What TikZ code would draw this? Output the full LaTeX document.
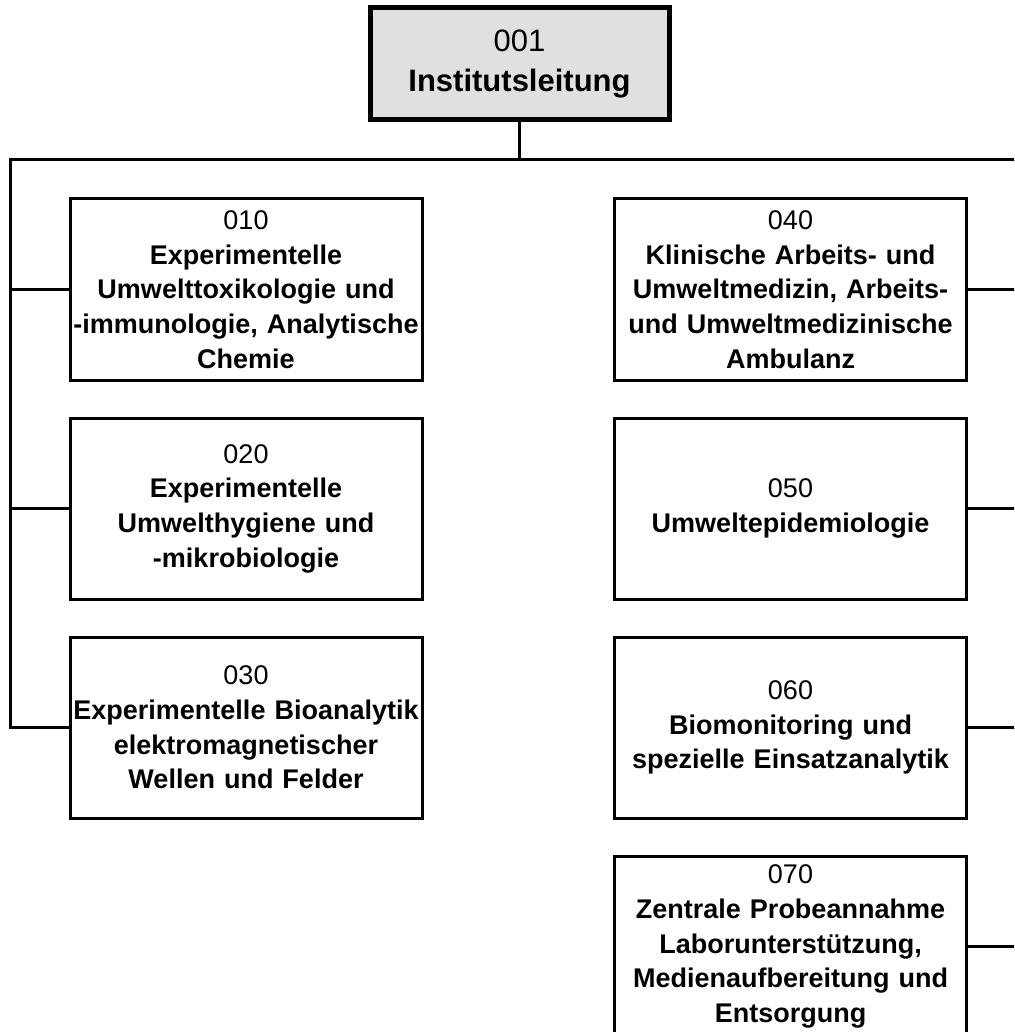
\documentclass[tikz,border=0pt]{standalone}
\usepackage{fontspec}
\setmainfont{Liberation Sans}
\usepackage{tikz}
\usetikzlibrary{calc}
\usetikzlibrary{positioning}
\definecolor{headgray}{HTML}{E0E0E0}

\begin{document}
\begin{tikzpicture}[x=1pt, y=-1pt,
    head/.style={rectangle, draw=black, fill=headgray, line width=5pt, minimum width=299pt, minimum height=112pt, text width=296pt, inner xsep=1pt, align=center, font=\fontsize{31}{40}\selectfont},
    unit/.style={rectangle, draw=black, line width=3pt, minimum width=352pt, minimum height=181pt, text width=350pt, inner xsep=1pt, align=center, font=\fontsize{27}{34.7}\selectfont},
    link/.style={line width=3pt, line join=miter}]
            \clip (0, 0) rectangle (1014, 1032);
            \node[head] (h001) at (519.5, 64) {001\\\bfseries Institutsleitung};
            \coordinate (lt) at (10, 160);
            \coordinate (rt) at (1030, 160);
            \coordinate (A) at (246, 289.5);
            \foreach \n/\t in {010/{Experimentelle\\Umwelttoxikologie und\\-immunologie, Analytische\\Chemie},
                020/{Experimentelle\\Umwelthygiene und\\-mikrobiologie},
                030/{Experimentelle Bioanalytik\\elektromagnetischer\\Wellen und Felder}}
            {
                \node[unit] (b\n) at (A) {\n\\\bfseries \t};
                \coordinate (A) at ($(A) + (0, 219)$);
            }
            \coordinate (A) at (790.5, 289.5);
            \foreach \n/\t in {040/{Klinische Arbeits- und\\Umweltmedizin, Arbeits-\\und Umweltmedizinische\\Ambulanz},
                050/{Umweltepidemiologie},
                060/{Biomonitoring und\\spezielle Einsatzanalytik},
                070/{Zentrale Probeannahme\\Laborunterstützung,\\Medienaufbereitung und\\Entsorgung}}
            {
                \node[unit] (b\n) at (A) {\n\\\bfseries \t};
                \draw[link] (b\n.east) -- (b\n.east -| rt);
                \coordinate (A) at ($(A) + (0, 219)$);
            }
            \draw[link] (h001.south) -- (h001.south |- lt);
            \draw[link] (b030.west) -- (b030.west -| lt) -- (lt) -- (rt);
            \foreach \n in {010, 020}
                \draw[link] (b\n.west) -- (b\n.west -| lt);
        \end{tikzpicture}
\end{document}
